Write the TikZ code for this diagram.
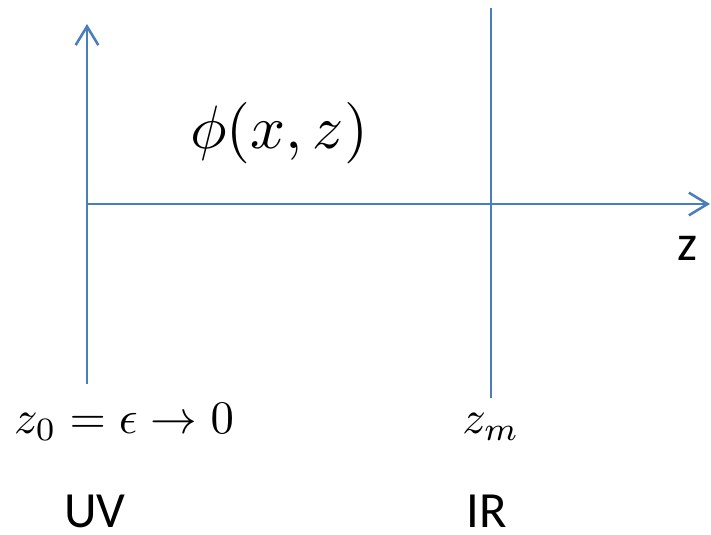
\documentclass[tikz,border=0pt]{standalone}
\usepackage{fontspec}
\newfontfamily\calibri{Carlito}
\usepackage{tikz}
\usetikzlibrary{arrows.meta}
\definecolor{axisblue}{HTML}{4A7EBB}

\begin{document}
\begin{tikzpicture}[
  x=0.75pt, y=-0.75pt,
  >={Straight Barb[length=14pt,width=17pt,line width=1.9pt]},
  axis/.style={
    draw=axisblue,
    line width=1.9pt
  },
  mathlabel/.style={
    inner sep=0pt,
    anchor=base
  },
  sidelabel/.style={
    inner sep=0pt,
    anchor=base,
    font=\calibri\fontsize{38}{46}\selectfont
  }
]
  \useasboundingbox (0,0) rectangle (711,535);

  % Axes and boundary line
  \coordinate (uvbot) at (87,384);
  \coordinate (uvtop) at (87,24);
  \coordinate (origin) at (87,204);
  \coordinate (zend) at (710,204);
  \coordinate (irtop) at (491,8);
  \coordinate (irbot) at (491,398);

  \draw[axis, ->] (uvbot) -- (uvtop);
  \draw[axis, ->] (origin) -- (zend);
  \draw[axis] (irtop) -- (irbot);

  % Field label
  \node[inner sep=0pt] (field) at (279,133) {\scalebox{4.6}{$\phi(x,z)$}};

  % Boundary labels
  \node[mathlabel] (uvval) at (124,433) {\scalebox{3.5}{$z_0=\epsilon\to 0$}};
  \node[mathlabel] (irval) at (491,433) {\scalebox{3.5}{$z_m$}};
  \node[sidelabel] (zlabel) at (688,260) {z};

  \node[sidelabel] (uvname) at (95,527) {UV};
  \node[sidelabel] (irname) at (487,527) {IR};

\end{tikzpicture}
\end{document}
